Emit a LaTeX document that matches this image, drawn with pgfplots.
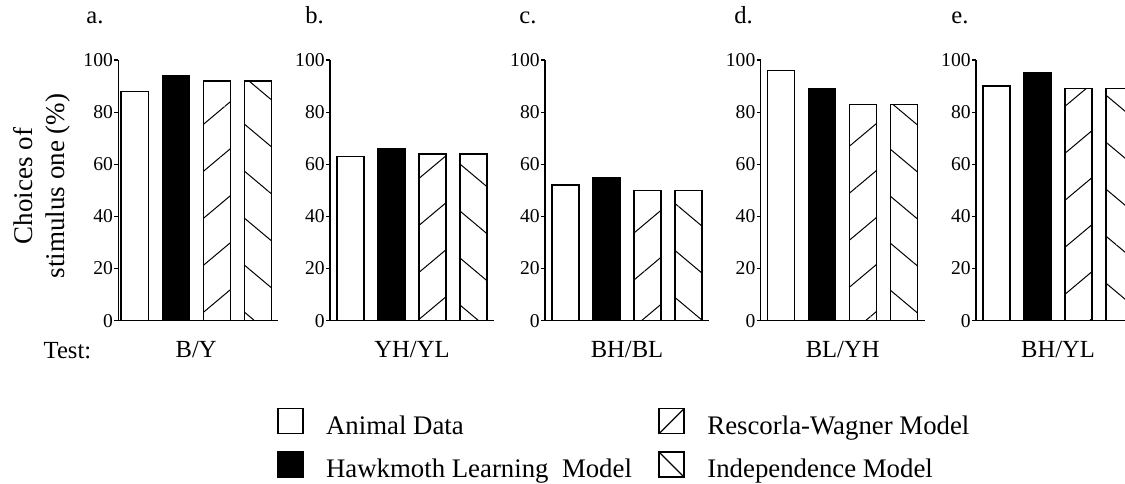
\documentclass[border=0pt]{standalone}
\usepackage{fontspec}
\setmainfont{Liberation Serif}
\usepackage{pgfplots}
\pgfplotsset{compat=1.18}
\usetikzlibrary{patterns.meta}

\pgfplotsset{
  panel/.style={
    scale only axis, anchor=south west,
    height=130.35pt, width=82pt,
    xmin=-0.5, xmax=3.5,
    ymin=0, ymax=100, ytick={0,20,...,100},
    xtick=\empty,
    axis x line*=bottom, axis y line*=left,
    axis line style={-, line width=0.7pt, black},
    ybar, bar width=13.5pt, bar shift=0pt,
    tick align=outside, major tick length=2pt,
    tick style={line width=0.6pt, black},
    /pgf/number format/assume math mode=true,
    yticklabel style={font=\fontsize{9.8}{10}\selectfont, inner xsep=0.5pt},
    clip=false,
  },
  animal/.style={draw=black, line width=0.7pt, fill=white},
  hawk/.style={draw=black, line width=0.7pt, fill=black},
  rw/.style={draw=black, line width=0.7pt, pattern={Lines[angle=40,distance=18pt,line width=0.5pt]}},
  ind/.style={draw=black, line width=0.7pt, pattern={Lines[angle=-40,distance=18pt,line width=0.5pt]}},
}
\newcommand{\catlabel}[1]{\node[anchor=base, font=\fontsize{12.3}{14}\selectfont] at (axis cs:1.5,-14.3) {#1};}

\begin{document}
\begin{tikzpicture}
\useasboundingbox (0,0) rectangle (562.5pt,241.5pt);
\clip (0,0) rectangle (562.5pt,241.5pt);

% panel a
\begin{axis}[panel, at={(59.15pt,81.15pt)}, xmin=-0.4, width=79.95pt,
  legend columns=2, transpose legend, legend cell align=left,
  legend style={at={(rel axis cs:0.9906,-0.333)}, anchor=north west,
    draw=none, fill=none, inner sep=0pt, row sep=5pt,
    font=\fontsize{13.4}{15}\selectfont,
    /tikz/every odd column/.append style={column sep=9.3pt},
    /tikz/every even column/.append style={column sep=11.2pt}},
]
\addplot[animal, legend image code/.code={\draw[line width=0.7pt,fill=white] (0pt,-3.5pt) rectangle (12.5pt,9pt);}] coordinates {(0,88)};
\addlegendentry{Animal Data}
\addplot[hawk, legend image code/.code={\draw[line width=0.7pt,fill=black] (0pt,-3.5pt) rectangle (12.5pt,9pt);}] coordinates {(1,94)};
\addlegendentry{Hawkmoth Learning~ Model}
\addplot[rw, legend image code/.code={\draw[line width=0.7pt,fill=white] (0pt,-3.5pt) rectangle (12.5pt,9pt); \draw[line width=0.6pt] (0pt,-3.5pt) -- (12.5pt,9pt);}] coordinates {(2,92)};
\addlegendentry{Rescorla-Wagner Model}
\addplot[ind, legend image code/.code={\draw[line width=0.7pt,fill=white] (0pt,-3.5pt) rectangle (12.5pt,9pt); \draw[line width=0.6pt] (0pt,9pt) -- (12.5pt,-3.5pt);}] coordinates {(3,92)};
\addlegendentry{Independence Model}
\catlabel{B/Y}
\end{axis}

% panel b
\begin{axis}[panel, at={(165pt,81.15pt)}]
\addplot[animal] coordinates {(0,63)};
\addplot[hawk] coordinates {(1,66)};
\addplot[rw] coordinates {(2,64)};
\addplot[ind] coordinates {(3,64)};
\catlabel{YH/YL}
\end{axis}

% panel c
\begin{axis}[panel, at={(272.5pt,81.15pt)}]
\addplot[animal] coordinates {(0,52)};
\addplot[hawk] coordinates {(1,55)};
\addplot[rw] coordinates {(2,50)};
\addplot[ind] coordinates {(3,50)};
\catlabel{BH/BL}
\end{axis}

% panel d
\begin{axis}[panel, at={(380.35pt,81.15pt)}]
\addplot[animal] coordinates {(0,96)};
\addplot[hawk] coordinates {(1,89)};
\addplot[rw] coordinates {(2,83)};
\addplot[ind] coordinates {(3,83)};
\catlabel{BL/YH}
\end{axis}

% panel e
\begin{axis}[panel, at={(488pt,81.15pt)}]
\addplot[animal] coordinates {(0,90)};
\addplot[hawk] coordinates {(1,95)};
\addplot[rw] coordinates {(2,89)};
\addplot[ind] coordinates {(3,89)};
\catlabel{BH/YL}
\end{axis}

% panel letters
\begin{scope}[every node/.style={anchor=base west, font=\fontsize{12.3}{14}\selectfont, inner sep=0pt}]
\node at (43pt,229.5pt) {a.};
\node at (152.5pt,229.5pt) {b.};
\node at (259.5pt,229.5pt) {c.};
\node at (367pt,229.5pt) {d.};
\node at (475.5pt,229.5pt) {e.};
\node at (21.65pt,62.5pt) {Test:};
\end{scope}

\node[rotate=90, align=center, font=\fontsize{13.5}{16}\selectfont] at (20.8pt,148.5pt) {Choices of\\stimulus one (\%)};
\end{tikzpicture}
\end{document}
